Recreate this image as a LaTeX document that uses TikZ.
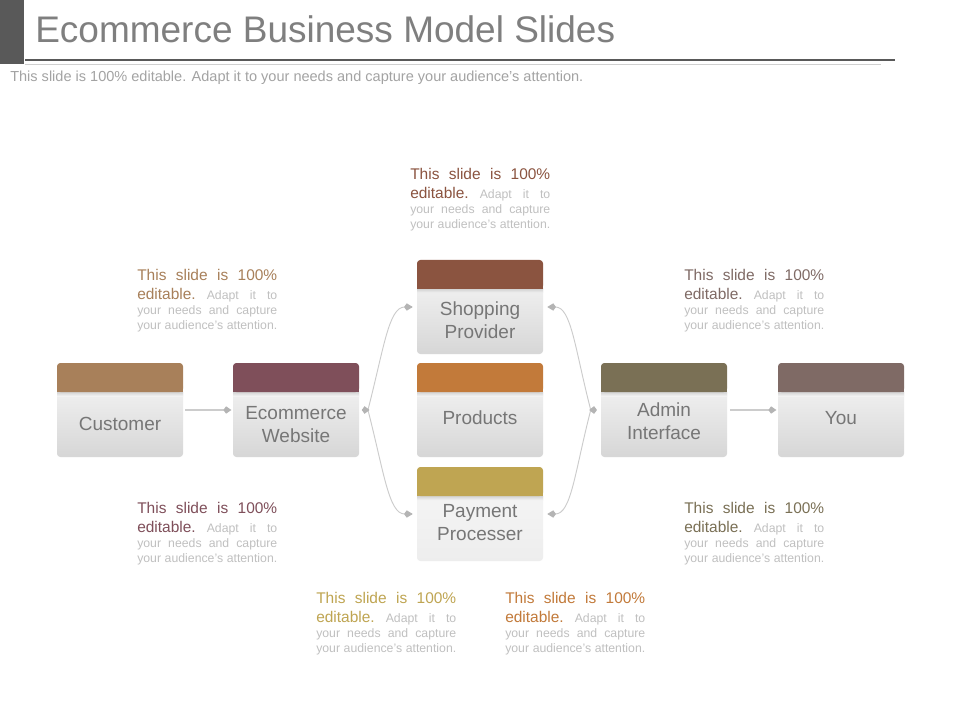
\documentclass[tikz,border=0pt]{standalone}
\usepackage{fontspec}
\setmainfont{Liberation Sans}
\usetikzlibrary{arrows.meta}
\definecolor{hcust}{HTML}{A8805A}
\definecolor{hweb}{HTML}{7F4F5A}
\definecolor{hshop}{HTML}{8B5440}
\definecolor{hprod}{HTML}{C27A3A}
\definecolor{hpay}{HTML}{BFA552}
\definecolor{hadmin}{HTML}{7A7055}
\definecolor{hyou}{HTML}{7F6A65}
\definecolor{lblgray}{HTML}{767676}
\definecolor{titlegray}{HTML}{7F7F7F}
\definecolor{subgray}{HTML}{A3A3A3}
\definecolor{dgray}{HTML}{C0C0C0}
\definecolor{bargray}{HTML}{595959}
\definecolor{linegray}{HTML}{D0D0D0}
\definecolor{conngray}{HTML}{CCCCCC}
\definecolor{tipgray}{HTML}{B4B4B4}

\newcommand\dbig{\fontsize{11.6}{13}\selectfont}
\newcommand\dsmall{\fontsize{9.2}{10}\selectfont\color{dgray}}
\newcommand\descblk[1]{\vtop{\hsize=105pt\lineskiplimit=-\maxdimen\baselineskip=14.25pt%
\hbox to\hsize{\color{#1}\dbig This\hfil slide\hfil is\hfil 100\%}%
\hbox to\hsize{\color{#1}\dbig editable.\hfil\dsmall Adapt\hfil it\hfil to}%
\baselineskip=11.25pt%
\hbox to\hsize{\dsmall your\hfil needs\hfil and\hfil capture}%
\hbox to\hsize{\dsmall your\hfil audience's\hfil attention.}}}

\tikzset{
  boxarea/.style={minimum width=94.5pt, minimum height=70.5pt, inner sep=0pt},
  bodyshade/.style={top color=black!5, bottom color=black!16},
  paybody/.style={top color=black!4, bottom color=black!7},
  lbl/.style={font=\fontsize{14.25}{17.25}\selectfont, text=lblgray, align=center, inner sep=0pt},
  desc/.style={anchor=base west, inner sep=0pt},
  straightarrow/.style={draw=conngray, line width=0.9pt, -{Kite[length=6pt,width=5.5pt,inset=2pt,color=tipgray]}},
  curvearrow/.style={draw=conngray, line width=0.7pt, {Kite[reversed,length=5.5pt,width=5.5pt,inset=2pt,color=tipgray]}-{Kite[length=6.5pt,width=5.5pt,inset=2pt,color=tipgray]}}
}

\newcommand\ecbox[5]{%
  \node[boxarea] (#1) at (#2,#3+47) {};
  \shade[#5, rounded corners=2.5pt] (#2-63,#3+20) rectangle (#2+63,#3+94);
  \shade[top color=black!17, bottom color=black!5] (#2-63,#3+29) rectangle (#2+63,#3+33);
  \fill[#4, rounded corners=2.5pt] (#2-63,#3) rectangle (#2+63,#3+29);
  \fill[#4] (#2-63,#3+14) rectangle (#2+63,#3+29);
}

\begin{document}
\begin{tikzpicture}[x=0.75pt,y=-0.75pt]
\useasboundingbox (0,0) rectangle (960,720);
\fill[white] (0,0) rectangle (960,720);

% title area
\fill[bargray] (0,0) rectangle (24,64);
\draw[bargray, line width=1.5pt] (25,60) -- (895,60);
\draw[linegray, line width=0.6pt] (25,64.5) -- (881,64.5);
\node[anchor=base west, inner sep=0pt, text=titlegray, font=\fontsize{27.75}{32}\selectfont] (title) at (35,43) {Ecommerce Business Model Slides};
\node[anchor=base west, inner sep=0pt, text=subgray, font=\fontsize{10.9}{13}\selectfont] (sub) at (10,82) {This slide is 100\% editable. Adapt it to your needs and capture your audience's attention.};

% boxes
\ecbox{cust}{120}{363}{hcust}{bodyshade}
\ecbox{eweb}{296}{363}{hweb}{bodyshade}
\ecbox{shop}{480}{260}{hshop}{bodyshade}
\ecbox{prod}{480}{363}{hprod}{bodyshade}
\ecbox{pay}{480}{467}{hpay}{paybody}
\ecbox{admin}{664}{363}{hadmin}{bodyshade}
\ecbox{you}{841}{363}{hyou}{bodyshade}

% labels
\node[lbl] (custl) at (120,424) {Customer};
\node[lbl] (ewebl) at (296,424.5) {Ecommerce\\Website};
\node[lbl] (shopl) at (480,320.5) {Shopping\\Provider};
\node[lbl] (prodl) at (480,418) {Products};
\node[lbl] (payl) at (480,522.5) {Payment\\Processer};
\node[lbl] (adminl) at (664,421.5) {Admin\\Interface};
\node[lbl] (youl) at (841,418) {You};

% connectors
\draw[straightarrow] ([xshift=1.5pt]cust.east) -- ([xshift=-1pt]eweb.west);
\draw[straightarrow] ([xshift=2pt]admin.east) -- ([xshift=-1pt]you.west);
\draw[curvearrow] ([xshift=2pt]eweb.east) -- ++(6,0) .. controls +(16,-62) and +(-24,0) .. ([xshift=-3pt]shop.west);
\draw[curvearrow] ([xshift=2pt]eweb.east) -- ++(6,0) .. controls +(16,62) and +(-24,0) .. ([xshift=-3pt]pay.west);
\draw[curvearrow] ([xshift=-3pt]admin.west) -- ++(-6,0) .. controls +(-16,-62) and +(24,0) .. ([xshift=3pt]shop.east);
\draw[curvearrow] ([xshift=-3pt]admin.west) -- ++(-6,0) .. controls +(-16,62) and +(24,0) .. ([xshift=3pt]pay.east);

% description blocks
\node[desc] (dtop) at (410,180) {\descblk{hshop}};
\node[desc] (dlt) at (137,281) {\descblk{hcust}};
\node[desc] (drt) at (684,281) {\descblk{hyou}};
\node[desc] (dlb) at (137,513) {\descblk{hweb}};
\node[desc] (drb) at (684,513) {\descblk{hadmin}};
\node[desc] (dbl) at (316,603) {\descblk{hpay}};
\node[desc] (dbr) at (505,603) {\descblk{hprod}};
\end{tikzpicture}
\end{document}
